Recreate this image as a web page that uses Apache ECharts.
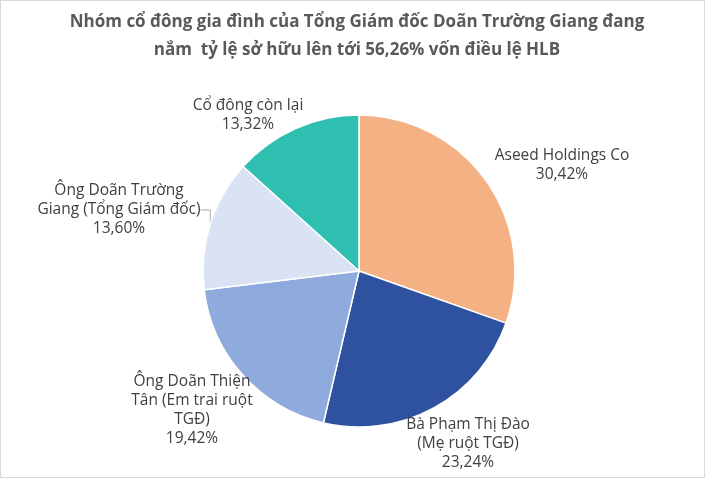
<!DOCTYPE html>
<html>
<head>
<meta charset="utf-8">
<script src="https://cdn.jsdelivr.net/npm/echarts@6/dist/echarts.min.js"></script>
<style>
    html, body { margin: 0; padding: 0; background: #fff; }
    #chart { width: 703px; height: 476px; border: 1px solid #d9d9d9; }
</style>
</head>
<body>
<div id="chart"></div>
<script>
// shareholders of HLB, clockwise from 12 o'clock
var names = [
    'Aseed Holdings Co',
    'Bà Phạm Thị Đào\n(Mẹ ruột TGĐ)',
    'Ông Doãn Thiện\nTân (Em trai ruột\nTGĐ)',
    'Ông Doãn Trường\nGiang (Tổng Giám đốc)',
    'Cổ đông còn lại'
];
var shares = [30.42, 23.24, 19.42, 13.60, 13.32];
var colors = ['#F4B183', '#2F52A0', '#8FAADC', '#DAE3F3', '#2EBFB1'];

// where each label sits (label centre, px)
var labelPos = [
    [561, 164],
    [467, 443],
    [191, 409],
    [118, 209],
    [247, 114]
];

var chart = echarts.init(document.getElementById('chart'));

var pieData = [];
for (var i = 0; i < names.length; i++) {
    pieData.push({
        name: names[i],
        value: shares[i],
        itemStyle: {color: colors[i]},
        labelLine: {show: i === 3}
    });
}

var option = {
    title: {
        text: 'Nhóm cổ đông gia đình của Tổng Giám đốc Doãn Trường Giang đang\nnắm  tỷ lệ sở hữu lên tới 56,26% vốn điều lệ HLB',
        left: 351,
        top: 2,
        textAlign: 'center',
        textStyle: {
            fontFamily: 'Open Sans',
            fontSize: 17,
            fontWeight: 'bold',
            color: '#595959',
            lineHeight: 28
        }
    },
    series: [
        {
            type: 'pie',
            center: [358, 270],
            radius: 156,
            startAngle: 90,
            clockwise: true,
            avoidLabelOverlap: false,
            itemStyle: {
                borderColor: '#fff',
                borderWidth: 1.5
            },
            label: {
                show: true,
                position: 'outside',
                formatter: function (p) {
                    return p.name + '\n' + p.value.toFixed(2).replace('.', ',') + '%';
                },
                fontFamily: 'Open Sans',
                fontSize: 15.5,
                lineHeight: 19,
                color: '#404040',
                align: 'center'
            },
            labelLine: {
                lineStyle: {color: '#a6a6a6', width: 1}
            },
            labelLayout: function (params) {
                var p = labelPos[params.dataIndex];
                return {x: p[0], y: p[1], align: 'center', verticalAlign: 'middle'};
            },
            data: pieData
        }
    ]
};

chart.setOption(option);
</script>
</body>
</html>
